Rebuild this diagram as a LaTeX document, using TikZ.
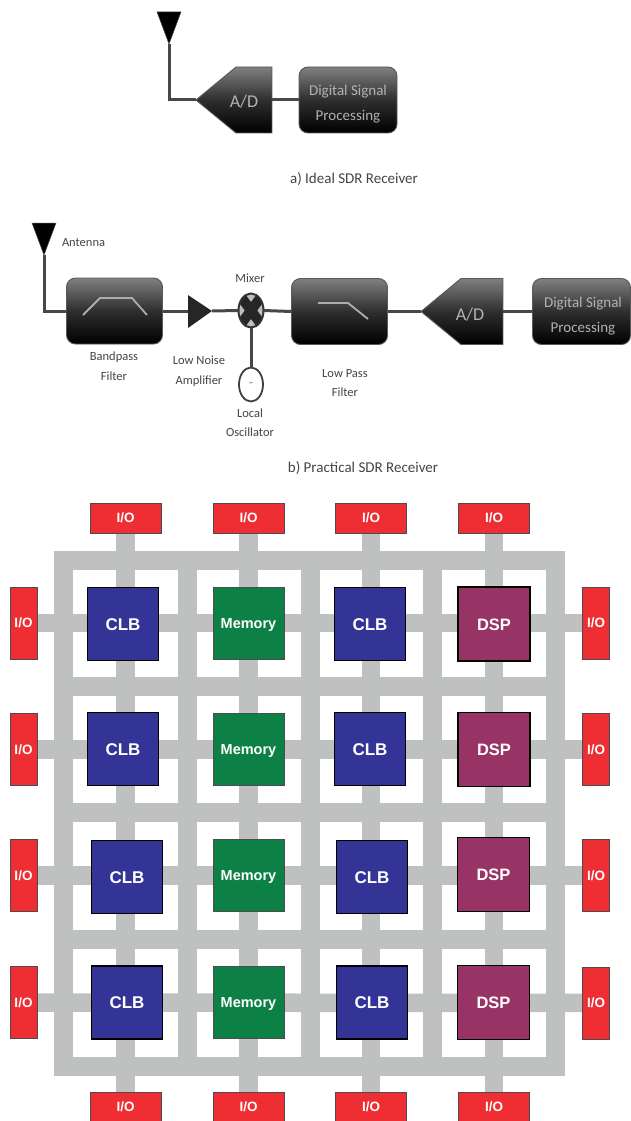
\documentclass[tikz,border=0pt]{standalone}
\usepackage{fontspec}
\setmainfont{Carlito}
\newfontfamily\gridfont{Liberation Sans}
\usetikzlibrary{shapes.symbols,shapes.geometric,backgrounds}
\definecolor{busgray}{HTML}{BFC1C0}
\definecolor{clbblue}{HTML}{343396}
\definecolor{memgreen}{HTML}{0C8045}
\definecolor{dspred}{HTML}{983365}
\definecolor{iored}{HTML}{EE2E32}
\definecolor{labelgray}{HTML}{444444}

\begin{document}
\begin{tikzpicture}[
    x=1pt, y=-1pt,
    every node/.style={inner sep=0pt, outer sep=0pt},
    wire/.style={draw=black!72, line width=3pt},
    dark/.style={draw=black!65, line width=0.9pt, top color=black!50, bottom color=black, middle color=black!82},
    dspbox/.style={dark, rounded corners=9pt, minimum width=98pt, minimum height=66pt},
    dsptext/.style={text=black!30, align=center, font=\fontsize{15}{25}\selectfont},
    filterbox/.style={dspbox, minimum width=96pt},
    adbox/.style={dark, signal, signal to=west, signal pointer angle=79, minimum width=76pt, minimum height=66pt},
    adtext/.style={text=black!30, font=\fontsize{18}{22}\selectfont},
    antenna/.style={fill=black, draw=black!70, line width=0.5pt},
    curve/.style={draw=black!32, line width=1.8pt},
    blocklabel/.style={text=labelgray, align=center, font=\fontsize{12.5}{19.5}\selectfont},
    caption/.style={text=labelgray, font=\fontsize{15}{18}\selectfont},
    bus/.style={draw=busgray, line width=18.5pt},
    rail/.style={draw=busgray, line width=19pt},
    clb/.style={draw=black, line width=1.2pt, fill=clbblue, text=white, minimum width=71pt, minimum height=73pt, text height=12pt, text depth=0pt, font=\gridfont\bfseries\fontsize{17}{20}\selectfont},
    mem/.style={draw=black!70, line width=0.8pt, fill=memgreen, text=white, minimum width=71pt, minimum height=72pt, text height=10.5pt, text depth=0pt, font=\gridfont\bfseries\fontsize{14.5}{20}\selectfont},
    dsp/.style={draw=black, line width=1.2pt, fill=dspred, text=white, minimum width=72pt, minimum height=74pt, text height=12pt, text depth=0pt, font=\gridfont\bfseries\fontsize{16.5}{20}\selectfont},
    iotb/.style={draw=black!70, line width=0.7pt, fill=iored, text=white, minimum width=71pt, minimum height=30pt, font=\gridfont\bfseries\fontsize{13.5}{16}\selectfont},
    iolr/.style={iotb, minimum width=27pt, minimum height=72pt},
]
\useasboundingbox (0,0) rectangle (631,1121);

% ---- Ideal receiver ----
\coordinate (ant1tip) at (169,44);
\fill[antenna] (157,12) -- (181,12) -- (ant1tip) -- cycle;
\node[adbox] (ad1) at (254,100) {};
\node[adtext] (ad1text) at (244,102) {A/D};
\node[dspbox] (dsp1) at (348,100) {};
\node[dsptext] (dsp1text) at (348,104.5) {Digital Signal\\Processing};
\draw[wire] (ant1tip) |- (ad1.west);
\draw[wire] (ad1.east) -- (dsp1.west);
\node[caption] (cap1) at (354,179) {a) Ideal SDR Receiver};

% ---- Practical receiver ----
\coordinate (ant2tip) at (44,255);
\fill[antenna] (32,223) -- (56,223) -- (ant2tip) -- cycle;
\node[blocklabel, anchor=west] (ant2text) at (62,243) {Antenna};
\node[filterbox] (bpf) at (114.5,311) {};
\draw[curve] (83,315) -- (100,298) -- (132,298) -- (147,315);
\node[blocklabel] (bpftext) at (114,366) {Bandpass\\Filter};
\coordinate (lnaback) at (188,311);
\coordinate (lnatip) at (212,311);
\fill[black!85] (188,295) -- (lnatip) -- (188,328) -- cycle;
\node[blocklabel] (lnatext) at (199,371) {Low Noise\\Amplifier};
\node[ellipse, draw=black!80, line width=2pt, fill=black!25, minimum width=25pt, minimum height=34pt, path picture={
    \draw[black!85, line width=10pt] (path picture bounding box.north west) -- (path picture bounding box.south east);
    \draw[black!85, line width=10pt] (path picture bounding box.north east) -- (path picture bounding box.south west);
}] (mixer) at (251,310.5) {};
\node[blocklabel] (mixertext) at (250,278) {Mixer};
\node[ellipse, draw=black!75, line width=1.8pt, fill=white, minimum width=24pt, minimum height=34pt, font=\fontsize{8}{8}\selectfont, text=black!70] (lo) at (251,384.5) {\textasciitilde};
\node[blocklabel] (lotext) at (250,422.5) {Local\\Oscillator};
\node[filterbox] (lpf) at (339.5,311.5) {};
\draw[curve] (318,303) -- (348,303) -- (368,319);
\node[blocklabel] (lpftext) at (345,383) {Low Pass\\Filter};
\node[adbox, minimum width=82pt] (ad2) at (482,311.5) {};
\node[adtext] (ad2text) at (470,315) {A/D};
\node[dspbox] (dsp2) at (581.5,311.5) {};
\node[dsptext] (dsp2text) at (583,316.5) {Digital Signal\\Processing};
\node[caption] (cap2) at (363,468) {b) Practical SDR Receiver};
\draw[wire] (ant2tip) |- (bpf.west);
\draw[wire] (bpf.east) -- (lnaback);
\draw[wire] (lnatip) -- (mixer.west);
\draw[wire] (mixer.east) -- (lpf.west);
\draw[wire] (mixer.south) -- (lo.north);
\draw[wire] (lpf.east) -- (ad2.west);
\draw[wire] (ad2.east) -- (dsp2.west);

% ---- I/O pads ----
\node[iotb] (t1) at (125.5,518) {I/O};
\node[iotb] (t2) at (248.5,518) {I/O};
\node[iotb] (t3) at (371,518) {I/O};
\node[iotb] (t4) at (494,518) {I/O};
\node[iotb] (b1) at (125.5,1107) {I/O};
\node[iotb] (b2) at (248.5,1107) {I/O};
\node[iotb] (b3) at (371,1107) {I/O};
\node[iotb] (b4) at (494,1107) {I/O};
\node[iolr] (l1) at (23.5,623) {I/O};
\node[iolr] (l2) at (23.5,749.5) {I/O};
\node[iolr] (l3) at (23.5,875.5) {I/O};
\node[iolr] (l4) at (23.5,1002.5) {I/O};
\node[iolr] (r1) at (596,623) {I/O};
\node[iolr] (r2) at (596,749.5) {I/O};
\node[iolr] (r3) at (596,875.5) {I/O};
\node[iolr] (r4) at (596,1003) {I/O};

% ---- Blocks ----
\node[clb] (clb11) at (123,624) {CLB};
\node[mem] (mem12) at (248.5,623) {Memory};
\node[clb] (clb13) at (370,624) {CLB};
\node[dsp] (dsp14) at (494,624) {DSP};
\node[clb] (clb21) at (123,749) {CLB};
\node[mem] (mem22) at (248.5,749.5) {Memory};
\node[clb] (clb23) at (370,749) {CLB};
\node[dsp] (dsp24) at (494,749.5) {DSP};
\node[clb] (clb31) at (127,877) {CLB};
\node[mem] (mem32) at (248.5,875.5) {Memory};
\node[clb] (clb33) at (372,877) {CLB};
\node[dsp] (dsp34) at (493.5,874.5) {DSP};
\node[clb] (clb41) at (127,1002.5) {CLB};
\node[mem] (mem42) at (248.5,1002.5) {Memory};
\node[clb] (clb43) at (372,1002.5) {CLB};
\node[dsp] (dsp44) at (493.5,1002.5) {DSP};

% ---- Routing ----
\begin{pgfonlayer}{background}
\draw[bus] (t1) -- (b1);
\draw[bus] (t2) -- (b2);
\draw[bus] (t3) -- (b3);
\draw[bus] (t4) -- (b4);
\draw[bus] (l1) -- (r1);
\draw[bus] (l2) -- (r2);
\draw[bus] (l3) -- (r3);
\draw[bus] (l4) -- (r4);
\draw[rail] (63,551) -- (63,1076);
\draw[rail] (187,551) -- (187,1076);
\draw[rail] (310,551) -- (310,1076);
\draw[rail] (432,551) -- (432,1076);
\draw[rail] (555.5,551) -- (555.5,1076);
\draw[rail] (54,560.5) -- (565,560.5);
\draw[rail] (54,686.5) -- (565,686.5);
\draw[rail] (54,812.5) -- (565,812.5);
\draw[rail] (54,939.5) -- (565,939.5);
\draw[rail] (54,1066.5) -- (565,1066.5);
\end{pgfonlayer}
\end{tikzpicture}
\end{document}
